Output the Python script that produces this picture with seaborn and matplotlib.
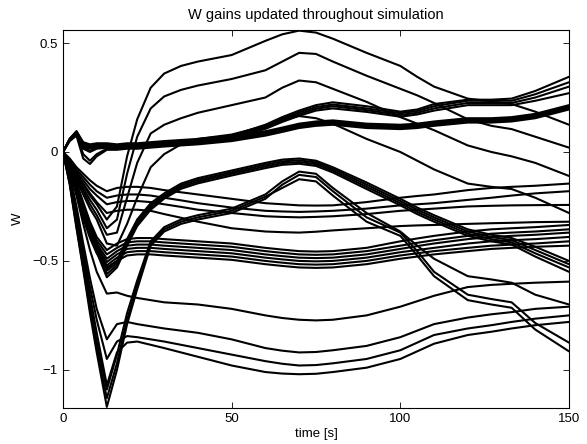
import pandas as pd
import matplotlib
matplotlib.use('Agg')
import matplotlib.pyplot as plt
import seaborn as sns

# sample times [s]
time_s = [0, 2, 4, 6, 8, 10, 13, 16, 19, 22, 26, 30, 35, 40, 50, 60, 65, 70, 75, 80,
          90, 100, 105, 110, 120, 127, 133, 140, 150]

# thick upper bundle
w_bundle = [
    [0, .06, .095, .04, .03, .035, .035, .03, .035, .035, .04, .045, .05, .055, .07, .095, .112, .13, .14, .145, .13, .125, .13, .14, .155, .155, .16, .175, .215],
    [0, .06, .09, .03, .02, .03, .03, .025, .03, .03, .035, .04, .045, .05, .065, .09, .107, .125, .135, .14, .125, .12, .125, .135, .15, .15, .155, .17, .21],
    [0, .055, .085, .02, .005, .02, .025, .02, .025, .025, .03, .035, .04, .045, .06, .085, .102, .12, .13, .135, .12, .115, .12, .13, .145, .145, .15, .165, .205],
    [0, .055, .08, -.01, -.04, -.01, .015, .015, .02, .02, .025, .03, .035, .04, .055, .08, .097, .115, .125, .13, .115, .11, .115, .125, .14, .14, .145, .16, .20],
    [0, .05, .075, -.03, -.055, -.02, .01, .01, .015, .015, .02, .025, .03, .035, .05, .075, .092, .11, .12, .125, .11, .105, .11, .12, .135, .135, .14, .155, .195],
]

# thin lines leaving the bundle and ending highest
w_split = [
    [0, .06, .095, .045, .035, .04, .04, .035, .04, .04, .045, .05, .055, .06, .075, .125, .16, .19, .215, .228, .21, .185, .195, .22, .24, .24, .245, .28, .345],
    [0, .06, .09, .035, .025, .035, .035, .03, .035, .035, .04, .045, .05, .055, .07, .118, .152, .182, .206, .218, .2, .178, .188, .21, .235, .235, .235, .265, .32],
    [0, .055, .085, .025, .015, .025, .03, .025, .03, .03, .035, .04, .045, .05, .065, .112, .145, .174, .198, .21, .192, .17, .18, .2, .225, .225, .225, .25, .30],
    [0, .055, .08, .015, .0, .015, .02, .02, .025, .025, .03, .035, .04, .045, .06, .106, .138, .166, .19, .2, .184, .162, .172, .19, .215, .215, .215, .235, .27],
]

# steep risers to the top
w_rise = [
    [0, -.05, -.1, -.15, -.2, -.24, -.31, -.25, -.02, .15, .295, .36, .395, .415, .445, .51, .54, .557, .548, .52, .455, .395, .345, .30, .245, .232, .22, .185, .125],
    [0, -.055, -.11, -.165, -.22, -.265, -.35, -.31, -.1, .07, .2, .255, .285, .305, .335, .375, .415, .455, .45, .415, .35, .29, .26, .225, .15, .12, .105, .07, .02],
    [0, -.06, -.12, -.18, -.24, -.29, -.38, -.37, -.21, -.05, .085, .125, .155, .18, .215, .25, .295, .328, .32, .29, .23, .16, .13, .1, .03, .0, -.02, -.05, -.11],
    [0, -.065, -.13, -.195, -.26, -.31, -.42, -.43, -.33, -.21, -.07, -.01, .035, .06, .08, .12, .155, .165, .155, .13, .06, .0, -.04, -.08, -.145, -.16, -.17, -.21, -.28],
]

# thick hump peaking near 70 s
w_hump = [
    [0, -.07, -.15, -.25, -.35, -.42, -.53, -.50, -.40, -.31, -.235, -.19, -.145, -.12, -.085, -.05, -.035, -.03, -.04, -.07, -.14, -.215, -.255, -.29, -.355, -.38, -.395, -.435, -.50],
    [0, -.075, -.155, -.26, -.36, -.43, -.545, -.51, -.41, -.32, -.245, -.198, -.153, -.128, -.093, -.058, -.043, -.038, -.048, -.078, -.15, -.225, -.265, -.30, -.365, -.39, -.405, -.45, -.515],
    [0, -.08, -.16, -.27, -.37, -.445, -.56, -.52, -.42, -.33, -.255, -.206, -.161, -.136, -.1, -.066, -.051, -.046, -.056, -.086, -.16, -.235, -.275, -.31, -.375, -.40, -.415, -.465, -.53],
    [0, -.085, -.165, -.28, -.38, -.46, -.575, -.53, -.43, -.34, -.265, -.214, -.169, -.144, -.108, -.074, -.059, -.054, -.064, -.094, -.17, -.245, -.285, -.32, -.385, -.41, -.425, -.48, -.55],
]

# deep dip, hump, then falling away
w_deep = [
    [0, -.15, -.35, -.54, -.74, -.92, -1.17, -1.0, -.79, -.63, -.43, -.365, -.33, -.31, -.28, -.215, -.15, -.105, -.115, -.18, -.30, -.37, -.455, -.55, -.655, -.675, -.69, -.785, -.875],
    [0, -.145, -.34, -.53, -.72, -.9, -1.13, -.97, -.77, -.61, -.42, -.355, -.32, -.30, -.27, -.205, -.165, -.125, -.135, -.20, -.32, -.385, -.475, -.57, -.68, -.70, -.715, -.815, -.915],
    [0, -.14, -.33, -.51, -.70, -.87, -1.09, -.93, -.74, -.59, -.41, -.345, -.31, -.29, -.26, -.195, -.135, -.09, -.10, -.165, -.28, -.365, -.43, -.49, -.57, -.585, -.60, -.655, -.70],
]

# nearly flat, upper
w_flat_hi = [
    [0, -.03, -.07, -.1, -.13, -.155, -.18, -.165, -.16, -.16, -.165, -.175, -.185, -.195, -.215, -.235, -.24, -.245, -.246, -.245, -.23, -.21, -.202, -.195, -.175, -.165, -.16, -.155, -.145],
    [0, -.035, -.08, -.115, -.15, -.18, -.21, -.2, -.195, -.195, -.2, -.21, -.222, -.235, -.255, -.27, -.273, -.275, -.273, -.27, -.26, -.245, -.24, -.235, -.22, -.21, -.2, -.19, -.18],
    [0, -.04, -.09, -.13, -.17, -.2, -.24, -.23, -.225, -.225, -.23, -.24, -.252, -.265, -.28, -.295, -.298, -.30, -.298, -.295, -.285, -.27, -.265, -.26, -.25, -.247, -.245, -.244, -.243],
    [0, -.045, -.1, -.145, -.19, -.23, -.28, -.27, -.265, -.265, -.27, -.285, -.302, -.32, -.35, -.365, -.368, -.37, -.366, -.36, -.35, -.34, -.337, -.335, -.33, -.327, -.325, -.322, -.32],
]

# nearly flat, middle group
w_flat_mid = [
    [0, -.06, -.14, -.23, -.32, -.39, -.45, -.42, -.40, -.395, -.395, -.4, -.405, -.41, -.42, -.44, -.448, -.455, -.457, -.455, -.44, -.41, -.397, -.385, -.365, -.355, -.35, -.345, -.335],
    [0, -.065, -.15, -.245, -.335, -.405, -.47, -.44, -.415, -.41, -.41, -.415, -.42, -.425, -.435, -.455, -.463, -.47, -.472, -.47, -.455, -.43, -.417, -.405, -.385, -.375, -.37, -.365, -.355],
    [0, -.07, -.16, -.26, -.35, -.42, -.49, -.455, -.43, -.425, -.425, -.43, -.435, -.44, -.45, -.47, -.478, -.485, -.487, -.485, -.47, -.445, -.432, -.42, -.40, -.39, -.385, -.38, -.37],
    [0, -.075, -.17, -.275, -.365, -.435, -.505, -.47, -.445, -.44, -.44, -.445, -.45, -.455, -.465, -.485, -.493, -.50, -.502, -.50, -.485, -.46, -.45, -.44, -.42, -.41, -.405, -.40, -.39],
    [0, -.08, -.18, -.29, -.38, -.45, -.52, -.485, -.46, -.455, -.455, -.46, -.465, -.47, -.48, -.50, -.508, -.515, -.517, -.515, -.50, -.475, -.465, -.455, -.44, -.43, -.425, -.42, -.41],
    [0, -.085, -.19, -.305, -.395, -.465, -.535, -.50, -.475, -.47, -.47, -.475, -.48, -.485, -.495, -.515, -.523, -.53, -.532, -.53, -.515, -.49, -.48, -.47, -.455, -.445, -.44, -.435, -.43],
]

# nearly flat, low group
w_flat_lo = [
    [0, -.08, -.2, -.33, -.45, -.55, -.65, -.645, -.66, -.67, -.68, -.69, -.695, -.70, -.72, -.75, -.762, -.77, -.773, -.77, -.75, -.71, -.685, -.66, -.62, -.61, -.605, -.60, -.595],
    [0, -.1, -.25, -.42, -.58, -.72, -.86, -.79, -.78, -.79, -.80, -.81, -.82, -.83, -.86, -.90, -.912, -.92, -.918, -.91, -.89, -.85, -.82, -.79, -.76, -.745, -.735, -.72, -.71],
    [0, -.11, -.27, -.45, -.62, -.77, -.95, -.87, -.845, -.85, -.86, -.87, -.885, -.90, -.93, -.96, -.972, -.98, -.978, -.97, -.95, -.91, -.875, -.84, -.81, -.795, -.78, -.765, -.75],
    [0, -.12, -.29, -.48, -.66, -.83, -1.07, -.92, -.875, -.87, -.885, -.90, -.92, -.94, -.98, -1.01, -1.017, -1.02, -1.018, -1.01, -.99, -.95, -.915, -.88, -.84, -.825, -.81, -.795, -.78],
]

groups = [w_bundle, w_split, w_rise, w_hump, w_deep, w_flat_hi, w_flat_mid, w_flat_lo]

rows = []
k = 0
for grp in groups:
    for series in grp:
        for t, w in zip(time_s, series):
            rows.append({'time': t, 'W': w, 'gain': k})
        k += 1
df = pd.DataFrame(rows)

sns.set_style('ticks')
plt.rcParams['font.family'] = ['Liberation Sans', 'DejaVu Sans']
for key in ['text.color', 'axes.labelcolor', 'xtick.color', 'ytick.color', 'axes.edgecolor']:
    plt.rcParams[key] = 'black'

fig = plt.figure(figsize=(5.87, 4.44), dpi=100)
ax = fig.add_axes([0.1073, 0.0811, 0.862, 0.8514])

sns.lineplot(data=df, x='time', y='W', units='gain', estimator=None,
             color='black', linewidth=1.5, sort=False, ax=ax)

ax.set_xlim(0, 150)
ax.set_ylim(-1.175, 0.56)
ax.set_xticks([0, 50, 100, 150])
ax.set_yticks([-1, -0.5, 0, 0.5])
ax.set_yticklabels(['\u22121', '\u22120.5', '0', '0.5'])
ax.tick_params(direction='in', top=True, right=True, length=4, width=0.6, labelsize=9.5)
for s in ax.spines.values():
    s.set_linewidth(0.8)
ax.set_title('W gains updated throughout simulation', fontsize=10.5, pad=8)
ax.set_xlabel('time [s]', fontsize=9.5, labelpad=2)
ax.set_ylabel('W', fontsize=9.5, labelpad=6)

fig.savefig('out.png', dpi=100)
